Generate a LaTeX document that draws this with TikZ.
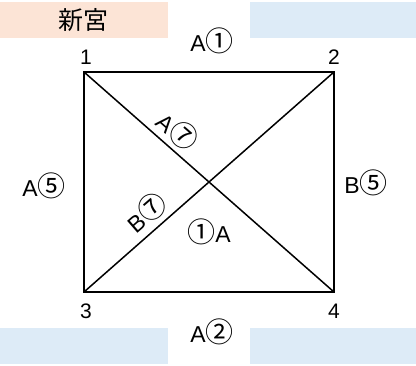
\documentclass[tikz,border=0pt]{standalone}
\usepackage{fontspec}
\setmainfont{Liberation Sans}
\newfontfamily\cjk{Noto Sans CJK JP}
\definecolor{salmonbg}{HTML}{FCE4D6}
\definecolor{bluebg}{HTML}{DDEBF7}
\newcommand{\cnum}[1]{{\cjk\fontsize{28}{28}\selectfont #1}}
\tikzset{
  lbl/.style={inner sep=0pt, font=\fontsize{23}{23}\selectfont},
  num/.style={inner sep=0pt, font=\fontsize{21}{21}\selectfont},
}
\begin{document}
\begin{tikzpicture}[x=1pt, y=1pt, line width=1.5pt]
			\useasboundingbox (0,0) rectangle (416,366);
			%colour boxes
			\fill[salmonbg] (0,328) rectangle (168,364);
			\fill[bluebg] (250,328) rectangle (416,364);
			\fill[bluebg] (0,2) rectangle (168,38);
			\fill[bluebg] (250,2) rectangle (416,38);
			\node (title) at (84,346) [inner sep=0pt, font=\cjk\fontsize{25}{25}\selectfont]{新宮};
			
			%corners
			\coordinate (c1) at (84,294);
			\coordinate (c2) at (334,294);
			\coordinate (c3) at (84,74);
			\coordinate (c4) at (334,74);
			\node (n1) at (86,309) [num]{1};
			\node (n2) at (334,309) [num]{2};
			\node (n3) at (86,55) [num]{3};
			\node (n4) at (334,55) [num]{4};
			
			\draw (c1) -- (c2) -- (c4) -- (c3) -- cycle;
			\draw (c1) -- (c4);
			\draw (c3) -- (c2);
			
			%edge labels
			\node (top) at (212,325) [lbl]{A\cnum{①}};
			\node (bottom) at (212,34) [lbl]{A\cnum{②}};
			\node (left) at (44,180) [lbl]{A\cnum{⑤}};
			\node (right) at (366,183) [lbl]{B\cnum{⑤}};
			\node (diagA) at (178,235) [lbl, rotate=-41]{A\cnum{⑦}};
			\node (diagB) at (146,154) [lbl, rotate=41]{B\cnum{⑦}};
			\node (mid) at (209,134) [lbl]{\cnum{①}A};
		\end{tikzpicture}
\end{document}
